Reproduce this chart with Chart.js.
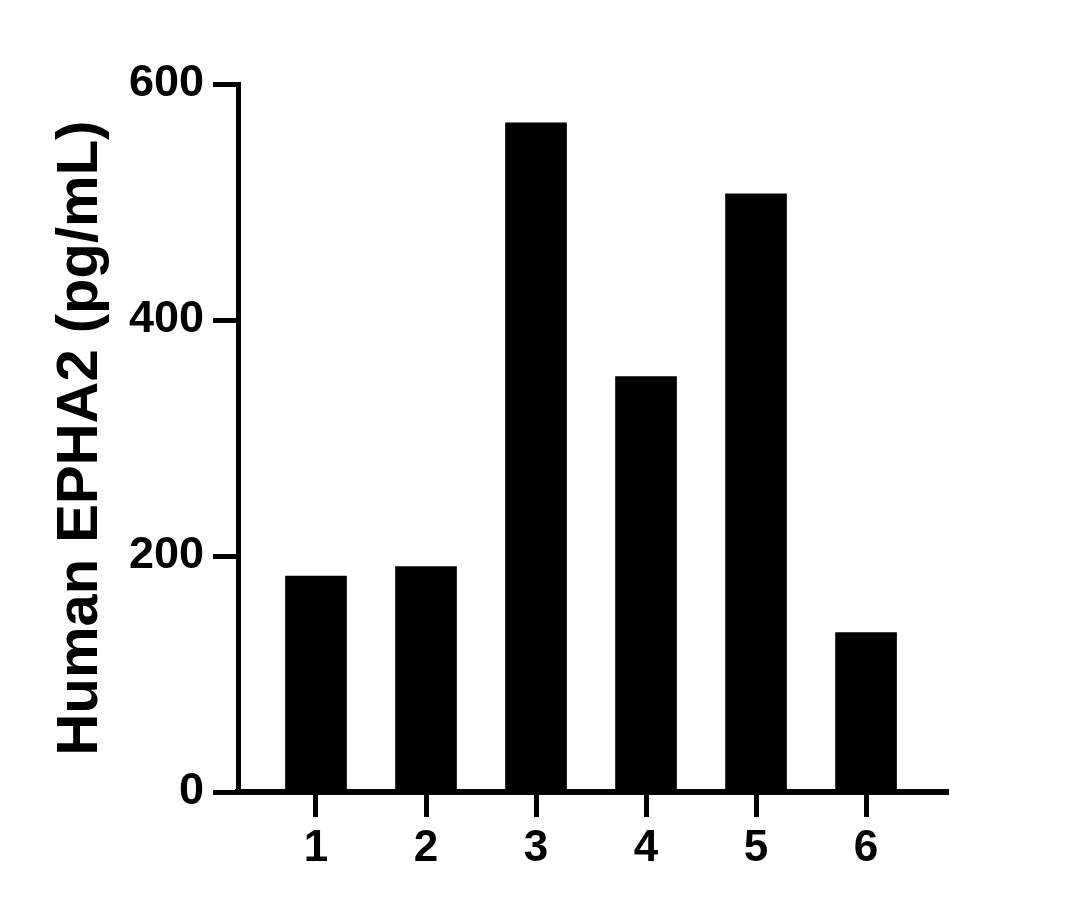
<!DOCTYPE html>
<html>
<head>
<meta charset="utf-8">
<script src="https://cdn.jsdelivr.net/npm/chart.js@4/dist/chart.umd.min.js"></script>
<style>
  html, body { margin: 0; padding: 0; background: #ffffff; }
  #wrap { width: 1079px; height: 909px; }
</style>
</head>
<body>
<div id="wrap"><canvas id="c" width="1079" height="909"></canvas></div>
<script>
const categories = [1, 2, 3, 4, 5, 6];
const values = [183, 191, 567, 352, 507, 135];
const yTicks = [0, 200, 400, 600];
const yTitle = "Human EPHA2 (pg/mL)";

const FONT = "'Liberation Sans', Arial, Helvetica, sans-serif";

const points = categories.map((c, i) => ({ x: c, y: values[i] }));

new Chart(document.getElementById('c'), {
  type: 'bar',
  data: {
    datasets: [{
      data: points,
      backgroundColor: '#000000',
      borderWidth: 0,
      barThickness: 61
    }]
  },
  options: {
    responsive: false,
    animation: false,
    devicePixelRatio: 1,
    layout: { padding: { left: 46, top: 84, right: 131, bottom: 0 } },
    plugins: { legend: { display: false }, tooltip: { enabled: false } },
    scales: {
      x: {
        type: 'linear',
        offset: false,
        min: 0.291,
        max: 6.745,
        afterBuildTicks: (s) => { s.ticks = categories.map(v => ({ value: v })); },
        afterFit: (s) => { s.height = 909 - 792 ; },
        grid: { offset: false, drawOnChartArea: false, drawTicks: true, tickLength: 25, tickWidth: 5, tickColor: '#000' },
        border: { display: true, color: '#000', width: 6 },
        ticks: {
          color: '#000', padding: 5, autoSkip: false, maxRotation: 0,
          font: { family: FONT, size: 44, weight: 'bold' },
          callback: (v) => String(v)
        }
      },
      y: {
        min: 0,
        max: 600,
        afterBuildTicks: (s) => { s.ticks = yTicks.map(v => ({ value: v })); },
        afterFit: (s) => { s.width = 238 - 46; },
        grid: { drawOnChartArea: false, drawTicks: true, tickLength: 25, tickWidth: 5, tickColor: '#000' },
        border: { display: true, color: '#000', width: 5 },
        ticks: {
          color: '#000', padding: 9,
          font: { family: FONT, size: 45, weight: 'bold' }
        },
        title: {
          display: true,
          text: yTitle,
          color: '#000',
          padding: 0,
          font: { family: FONT, size: 58, weight: 'bold' }
        }
      }
    }
  }
});
</script>
</body>
</html>
